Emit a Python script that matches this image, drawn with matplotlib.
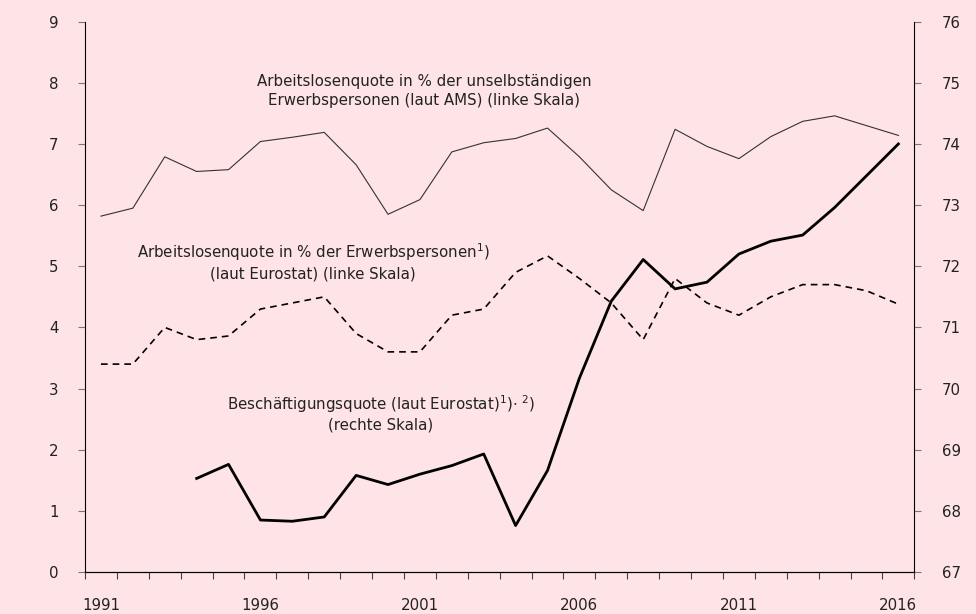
import numpy as np
import matplotlib
matplotlib.use("Agg")
import matplotlib.pyplot as plt

years = list(range(1991, 2017))
year_labels = ["1991", "1996", "2001", "2006", "2011", "2016"]

# Arbeitslosenquote laut AMS (linke Skala)
ams = [5.82, 5.95, 6.79, 6.55, 6.58, 7.04, 7.11, 7.19, 6.66, 5.85,
       6.09, 6.87, 7.02, 7.09, 7.26, 6.79, 6.25, 5.91, 7.24, 6.96,
       6.76, 7.12, 7.37, 7.46, 7.30, 7.14]

# Arbeitslosenquote laut Eurostat (linke Skala)
eurostat_ul = [3.4, 3.4, 4.0, 3.8, 3.86, 4.3, 4.4, 4.5, 3.9, 3.6,
               3.6, 4.2, 4.3, 4.9, 5.17, 4.8, 4.4, 3.8, 4.8, 4.4,
               4.2, 4.5, 4.7, 4.7, 4.6, 4.38]

# Beschaeftigungsquote laut Eurostat (rechte Skala)
employment = [np.nan, np.nan, np.nan, 68.53, 68.76, 67.85, 67.83, 67.90, 68.58, 68.43,
              68.60, 68.74, 68.93, 67.76, 68.66, 70.17, 71.43, 72.11, 71.63, 71.74,
              72.20, 72.41, 72.51, 72.96, 73.48, 74.00]

bg = "#fee4e6"
txt = "#222222"
plt.rcParams["font.family"] = ["DejaVu Sans"]
plt.rcParams["font.size"] = 10.8

fig = plt.figure(figsize=(9.76, 6.14), dpi=100, facecolor=bg)
ax = fig.add_axes([0.0871, 0.0684, 0.8497, 0.8963])
ax.set_facecolor(bg)
x = np.arange(len(years))

ax.plot(x, ams, color="#333333", linewidth=0.8)
ax.plot(x, eurostat_ul, color="black", linewidth=1.2, linestyle=(0, (4, 3)))

ax.set_xlim(-0.5, len(years) - 0.5)
ax.set_ylim(0, 9)
ax.set_yticks(range(0, 10))
ax.set_xticks(np.arange(-0.5, len(years)), labels=[])
ax.set_xticks([years.index(int(y)) for y in year_labels], labels=year_labels, minor=True)
ax.tick_params(axis="x", which="major", length=5, direction="out", color="#444444")
ax.tick_params(axis="x", which="minor", length=0, pad=19, labelcolor=txt)
ax.tick_params(axis="y", length=5, pad=14, labelcolor=txt, color="#777777")
ax.spines["top"].set_visible(False)
ax.spines["right"].set_visible(False)

ax2 = ax.twinx()
ax2.plot(x, employment, color="black", linewidth=2)
ax2.set_ylim(67, 76)
ax2.set_yticks(range(67, 77))
ax2.tick_params(axis="y", length=5, pad=15, labelcolor=txt, color="#777777")
ax2.spines["top"].set_visible(False)
ax2.spines["left"].set_visible(False)

fig.text(424 / 976, 1 - 91 / 614,
         "Arbeitslosenquote in % der unselbständigen\nErwerbspersonen (laut AMS) (linke Skala)",
         ha="center", va="center", color=txt, linespacing=1.3)
fig.text(313 / 976, 1 - 261 / 614,
         "Arbeitslosenquote in % der Erwerbspersonen$^{1}$)\n(laut Eurostat) (linke Skala)",
         ha="center", va="center", color=txt, linespacing=1.3)
fig.text(381 / 976, 1 - 413 / 614,
         "Beschäftigungsquote (laut Eurostat)$^{1}$)$\\cdot$ $^{2}$)\n(rechte Skala)",
         ha="center", va="center", color=txt, linespacing=1.2)

fig.savefig("out.png", dpi=100, facecolor=bg)
